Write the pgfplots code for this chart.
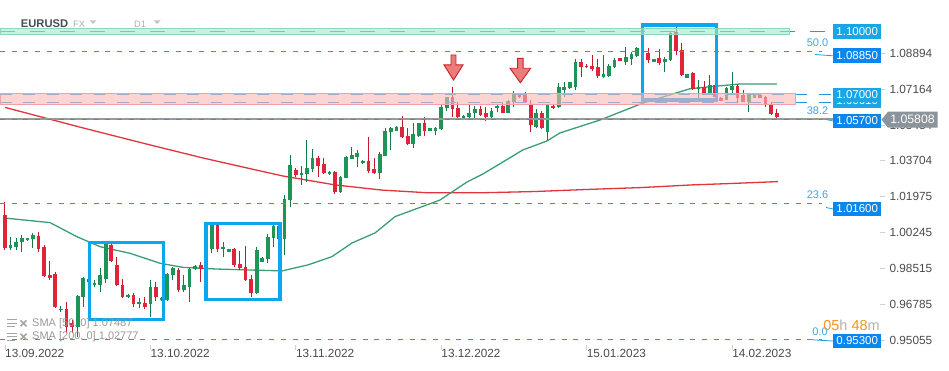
\documentclass[border=0pt]{standalone}
\usepackage{fontspec}
\setmainfont{Liberation Sans}
\usepackage{pgfplots}
\pgfplotsset{compat=1.18}
\usepackage{pgfplotstable}
\newcommand{\fs}[1]{\fontsize{#1}{#1}\selectfont}
\definecolor{gbody}{HTML}{1E9556}
\definecolor{gwick}{HTML}{137A44}
\definecolor{rbody}{HTML}{E0253A}
\definecolor{rwick}{HTML}{C01A2C}
\definecolor{sma50}{HTML}{3A9E74}
\definecolor{sma200}{HTML}{E2343C}
\definecolor{lvl}{HTML}{1E9BE6}
\definecolor{boxblue}{HTML}{0AA6F0}
\definecolor{lblA}{HTML}{1AA5E6}
\definecolor{lblB}{HTML}{0B86EE}
\definecolor{fib}{HTML}{35A9E3}
\definecolor{pband}{HTML}{FBB8B8}
\definecolor{pbandline}{HTML}{F4A0A3}
\definecolor{gband}{HTML}{A3E8CD}
\definecolor{gbandline}{HTML}{8AD9BA}
\definecolor{arrowfill}{HTML}{E86E6E}
\definecolor{arrowdraw}{HTML}{CC1F1F}
\definecolor{pricegray}{HTML}{8B949A}
\definecolor{ticktext}{HTML}{4A4A4A}
\definecolor{cdorange}{HTML}{F7941D}
\definecolor{titlecol}{HTML}{444C55}
\definecolor{hdrgray}{HTML}{A7AEB5}

\pgfplotstableread{
i O H L C
1 0.9948 1.0004 0.9940 0.9964
2 0.9956 0.9999 0.9940 0.9980
3 0.9978 1.0012 0.9929 0.9999
4 0.9990 0.9999 0.9985 0.9996
5 0.9992 1.0020 0.9951 1.0011
10 0.9648 0.9668 0.9640 0.9655
13 0.9570 0.9723 0.9521 0.9718
14 0.9712 0.9811 0.9666 0.9803
16 0.9770 0.9795 0.9763 0.9782
17 0.9771 0.9852 0.9739 0.9819
18 0.9798 0.9983 0.9781 0.9971
22 0.9712 0.9727 0.9708 0.9723
24 0.9679 0.9707 0.9659 0.9689
26 0.9679 0.9795 0.9615 0.9760
28 0.9699 0.9713 0.9694 0.9706
29 0.9699 0.9827 0.9695 0.9823
30 0.9818 0.9859 0.9795 0.9852
32 0.9747 0.9819 0.9739 0.9771
33 0.9763 0.9852 0.9690 0.9847
34 0.9850 0.9868 0.9843 0.9863
36 0.9850 0.9954 0.9843 0.9943
37 0.9943 1.0070 0.9927 1.0061
39 0.9943 0.9980 0.9908 0.9953
40 0.9932 0.9945 0.9930 0.9943
45 0.9731 0.9953 0.9728 0.9940
46 0.9883 0.9906 0.9882 0.9900
47 0.9895 1.0017 0.9879 1.0001
48 0.9996 1.0076 0.9956 1.0056
50 0.9992 1.0205 0.9916 1.0186
51 1.0181 1.0398 1.0149 1.0350
53 1.0300 1.0345 1.0254 1.0313
54 1.0307 1.0471 1.0270 1.0334
55 1.0329 1.0426 1.0318 1.0382
58 1.0305 1.0319 1.0302 1.0315
60 1.0221 1.0297 1.0216 1.0294
61 1.0289 1.0394 1.0286 1.0387
62 1.0379 1.0438 1.0377 1.0398
63 1.0390 1.0422 1.0342 1.0407
64 1.0358 1.0374 1.0355 1.0369
67 1.0310 1.0414 1.0281 1.0403
68 1.0394 1.0527 1.0394 1.0514
69 1.0508 1.0535 1.0422 1.0527
70 1.0516 1.0536 1.0514 1.0532
73 1.0452 1.0551 1.0431 1.0500
74 1.0490 1.0554 1.0487 1.0551
76 1.0516 1.0529 1.0514 1.0527
77 1.0516 1.0535 1.0496 1.0529
78 1.0522 1.0638 1.0519 1.0632
79 1.0624 1.0680 1.0612 1.0677
82 1.0576 1.0589 1.0572 1.0587
83 1.0580 1.0640 1.0576 1.0600
84 1.0600 1.0635 1.0576 1.0622
87 1.0583 1.0624 1.0576 1.0611
88 1.0624 1.0640 1.0606 1.0635
90 1.0603 1.0664 1.0603 1.0659
91 1.0656 1.0709 1.0632 1.0699
95 1.0535 1.0620 1.0530 1.0603
97 1.0511 1.0642 1.0471 1.0640
99 1.0632 1.0744 1.0625 1.0728
100 1.0712 1.0752 1.0680 1.0728
101 1.0723 1.0752 1.0717 1.0749
102 1.0727 1.0864 1.0712 1.0847
107 1.0776 1.0881 1.0769 1.0789
108 1.0780 1.0837 1.0776 1.0828
109 1.0822 1.0867 1.0817 1.0857
111 1.0849 1.0918 1.0833 1.0870
112 1.0862 1.0897 1.0833 1.0886
113 1.0878 1.0921 1.0873 1.0913
116 1.0849 1.0862 1.0847 1.0860
118 1.0846 1.0873 1.0798 1.0862
119 1.0857 1.0997 1.0852 1.0986
122 1.0771 1.0789 1.0770 1.0788
124 1.0715 1.0760 1.0664 1.0728
126 1.0696 1.0784 1.0696 1.0736
129 1.0664 1.0728 1.0664 1.0723
130 1.0712 1.0800 1.0688 1.0733
133 1.0656 1.0696 1.0605 1.0691
134 1.0675 1.0690 1.0674 1.0688
}\greendata

\pgfplotstableread{
i O H L C
0 1.0109 1.0173 0.9940 0.9948
6 1.0009 1.0025 0.9932 0.9945
7 0.9956 0.9964 0.9811 0.9816
8 0.9819 0.9888 0.9795 0.9806
9 0.9823 0.9835 0.9659 0.9666
11 0.9654 0.9690 0.9539 0.9570
12 0.9589 0.9602 0.9541 0.9570
15 0.9802 0.9810 0.9776 0.9785
19 0.9964 0.9976 0.9882 0.9887
20 0.9868 0.9905 0.9766 0.9770
21 0.9770 0.9798 0.9707 0.9714
23 0.9723 0.9734 0.9666 0.9679
25 0.9684 0.9712 0.9654 0.9666
27 0.9763 0.9787 0.9695 0.9712
31 0.9843 0.9852 0.9739 0.9747
35 0.9866 0.9883 0.9787 0.9850
38 1.0061 1.0068 0.9930 0.9943
41 0.9943 0.9951 0.9856 0.9868
42 0.9872 0.9937 0.9843 0.9852
43 0.9856 0.9959 0.9792 0.9795
44 0.9800 0.9819 0.9712 0.9731
49 1.0056 1.0075 0.9983 0.9992
52 1.0326 1.0336 1.0292 1.0302
56 1.0382 1.0394 1.0291 1.0345
57 1.0355 1.0382 1.0307 1.0310
59 1.0318 1.0323 1.0210 1.0221
65 1.0369 1.0487 1.0313 1.0321
66 1.0331 1.0382 1.0308 1.0310
71 1.0535 1.0587 1.0479 1.0484
72 1.0490 1.0527 1.0447 1.0452
75 1.0551 1.0580 1.0490 1.0516
80 1.0677 1.0725 1.0583 1.0619
81 1.0624 1.0656 1.0576 1.0580
85 1.0620 1.0635 1.0587 1.0591
86 1.0600 1.0632 1.0564 1.0580
89 1.0635 1.0648 1.0600 1.0603
92 1.0693 1.0698 1.0674 1.0680
93 1.0686 1.0704 1.0654 1.0656
94 1.0643 1.0664 1.0511 1.0543
96 1.0600 1.0611 1.0524 1.0527
98 1.0636 1.0640 1.0620 1.0624
103 1.0846 1.0862 1.0776 1.0825
104 1.0830 1.0837 1.0816 1.0821
105 1.0828 1.0881 1.0805 1.0813
106 1.0822 1.0860 1.0769 1.0780
110 1.0865 1.0867 1.0852 1.0854
114 1.0913 1.0929 1.0835 1.0888
115 1.0889 1.0913 1.0841 1.0857
117 1.0868 1.0910 1.0833 1.0841
120 1.0991 1.1018 1.0881 1.0900
121 1.0905 1.0937 1.0781 1.0784
123 1.0793 1.0800 1.0712 1.0717
125 1.0728 1.0756 1.0688 1.0696
127 1.0736 1.0746 1.0664 1.0676
128 1.0675 1.0678 1.0657 1.0659
131 1.0733 1.0740 1.0648 1.0675
132 1.0688 1.0712 1.0653 1.0656
135 1.0688 1.0691 1.0672 1.0675
136 1.0680 1.0685 1.0632 1.0640
137 1.0643 1.0653 1.0591 1.0595
138 1.0600 1.0620 1.0572 1.0581
}\reddata

\begin{document}
\begin{tikzpicture}
\begin{axis}[
  at={(0pt,25pt)}, anchor=south west,
  scale only axis, width=880pt, height=345pt,
  xmin=-0.894, xmax=156.46, ymin=0.94814, ymax=1.11464,
  axis line style={draw=none},
  ytick pos=right, xtick pos=left,
  tick align=outside, major tick length=5pt,
  tick style={draw=black!18, line width=0.8pt},
  ytick={0.95055,0.96785,0.98515,1.00245,1.01975,1.03704,1.05434,1.07164,1.08894},
  yticklabels={0.95055,0.96785,0.98515,1.00245,1.01975,1.03704,1.05434,1.07164,1.08894},
  xtick={0,26,52,78,104,130},
  xticklabels={13.09.2022,13.10.2022,13.11.2022,13.12.2022,15.01.2023,14.02.2023},
  yticklabel style={font=\fs{11.8}, text=ticktext, anchor=west, xshift=1pt},
  xticklabel style={font=\fs{11.8}, text=ticktext, anchor=north west, xshift=-3.3pt, yshift=4pt},
  clip=false,
  candle/.style={forget plot, draw=none, mark=none,
    error bars/.cd, y dir=plus, y explicit, error mark=none},
]
% SMA 200
\addplot[sma200, line width=1.3pt, forget plot] coordinates {
(0,1.0628) (13.95,1.0529) (25.93,1.0447) (35.40,1.0384) (44.88,1.0326) (49.71,1.0297)
(59.01,1.0254) (67.41,1.0229) (75.64,1.0216) (85.11,1.0216) (94.59,1.0222) (104.07,1.0232)
(113.54,1.0241) (122.84,1.0254) (130.0,1.0261) (138.2,1.0270)};
% SMA 50
\addplot[sma50, line width=1.3pt, forget plot] coordinates {
(0,1.0094) (8.05,1.0072) (12.87,1.0004) (16.99,0.9956) (22.35,0.9924) (27.72,0.9876)
(31.83,0.9856) (37.91,0.9848) (44.35,0.9843) (49.53,0.9839) (54.18,0.9868) (58.47,0.9908)
(62.05,0.9974) (66.16,1.0022) (69.74,1.0101) (77.78,1.0181) (82.61,1.0268) (85.47,1.0307)
(92.62,1.0423) (96.91,1.0466) (99.24,1.0505) (106.39,1.0567) (114.08,1.0649) (122.48,1.0718)
(127.31,1.0731) (131.42,1.0741) (138.04,1.0741)};
% wicks
\addplot[candle, error bar style={draw=gwick, line width=1pt}]
  table[x=i, y=L, y error expr=\thisrow{H}-\thisrow{L}] {\greendata};
\addplot[candle, error bar style={draw=rwick, line width=1pt}]
  table[x=i, y=L, y error expr=\thisrow{H}-\thisrow{L}] {\reddata};
% bodies
\addplot[candle, error bar style={draw=gbody, line width=3.7pt}]
  table[x=i, y=O, y error expr=\thisrow{C}-\thisrow{O}] {\greendata};
\addplot[candle, error bar style={draw=rbody, line width=3.7pt}]
  table[x=i, y=C, y error expr=\thisrow{O}-\thisrow{C}] {\reddata};
% level lines
\addplot[forget plot, lvl, line width=1.1pt, dash pattern=on 15pt off 15pt] coordinates {(-0.894,1.0994) (148.05,1.0994)};
\addplot[forget plot, lvl, line width=1.1pt, dash pattern=on 5pt off 6.7pt] coordinates {(-0.894,1.0897) (146.1,1.0897)};
\addplot[forget plot, lvl, line width=1.1pt, dash pattern=on 11.7pt off 11.7pt] coordinates {(-0.894,1.0689) (148.05,1.0689)};
\addplot[forget plot, lvl, line width=1.1pt, dash pattern=on 11.7pt off 11.7pt] coordinates {(-0.894,1.0653) (148.05,1.0653)};
\addplot[forget plot, black!40, line width=1.1pt] coordinates {(-0.894,1.0572) (148.05,1.0572)};
\addplot[forget plot, lvl, line width=1.1pt, dash pattern=on 5pt off 6.7pt] coordinates {(-0.894,1.0571) (146.1,1.0571)};
\addplot[forget plot, lvl, line width=1.1pt, dash pattern=on 5pt off 6.7pt] coordinates {(-0.894,1.0164) (146.1,1.0164)};
\addplot[forget plot, lvl, line width=1.1pt, dash pattern=on 5pt off 6.7pt] coordinates {(-0.894,0.9509) (146.1,0.9509)};
% highlight boxes
\draw[boxblue, line width=3.3pt] (axis cs:15.07,0.96054) rectangle (axis cs:28.31,0.99751);
\draw[boxblue, line width=3.3pt] (axis cs:35.94,0.97019) rectangle (axis cs:49.17,1.00687);
\draw[boxblue, line width=3.3pt] (axis cs:114.03,1.06638) rectangle (axis cs:127.26,1.10258);
% bands
\fill[gband, opacity=0.6] (axis cs:-0.894,1.0978) rectangle (axis cs:140.19,1.1010);
\draw[gbandline, line width=0.8pt] (axis cs:-0.894,1.0978) rectangle (axis cs:140.19,1.1010);
\fill[pband, opacity=0.6] (axis cs:-0.894,1.0641) rectangle (axis cs:141.26,1.0696);
\draw[pbandline, line width=0.8pt] (axis cs:-0.894,1.0641) rectangle (axis cs:141.26,1.0696);
% arrows
\filldraw[fill=arrowfill, draw=arrowdraw, line width=0.9pt, fill opacity=0.9]
  (axis cs:79.75,1.0881) -- (axis cs:80.64,1.0881) -- (axis cs:80.64,1.0833) -- (axis cs:81.89,1.0833)
  -- (axis cs:80.20,1.0760) -- (axis cs:78.50,1.0833) -- (axis cs:79.75,1.0833) -- cycle;
\filldraw[fill=arrowfill, draw=arrowdraw, line width=0.9pt, fill opacity=0.9]
  (axis cs:91.65,1.0865) -- (axis cs:92.65,1.0865) -- (axis cs:92.65,1.0817) -- (axis cs:94.00,1.0817)
  -- (axis cs:92.15,1.0747) -- (axis cs:90.30,1.0817) -- (axis cs:91.65,1.0817) -- cycle;
\end{axis}

\begin{scope}[shift={(0pt,370pt)}, x=1pt, y=-1pt]
% header
\node[anchor=base west, inner sep=0, font=\bfseries\fs{11.2}, text=titlecol] at (20.7,27.3) {EURUSD};
\node[anchor=base west, inner sep=0, font=\fs{9.3}, text=hdrgray] at (73,27.5) {FX};
\fill[hdrgray!70] (89.5,20.5) -- (96.5,20.5) -- (93,24) -- cycle;
\node[anchor=base west, inner sep=0, font=\fs{9.3}, text=hdrgray] at (134,27.5) {D1};
\fill[hdrgray!70] (153.5,20.5) -- (160.5,20.5) -- (157,24) -- cycle;
% legend
\foreach \yy in {323.3,336.7}{
  \draw[black!35, line width=1.2pt] (7,\yy-3.5) -- (17,\yy-3.5) (7,\yy) -- (17,\yy) (7,\yy+3.5) -- (15,\yy+3.5);
  \draw[black!35, line width=1.6pt] (20.5,\yy-3) -- (26.5,\yy+3) (20.5,\yy+3) -- (26.5,\yy-3);
}
\node[anchor=west, inner sep=0, font=\fs{11}, text=black!40] at (32,323.3) {SMA [50, 0] 1.07487};
\node[anchor=west, inner sep=0, font=\fs{11}, text=black!40] at (32,336.7) {SMA [200, 0] 1.02777};
% connectors
\draw[lvl, line width=0.8pt] (815,54.5) -- (833,55.8);
\draw[lvl, line width=0.8pt] (826,119.5) -- (833,121);
\draw[lvl, line width=0.8pt] (826,207.5) -- (833,209);
\draw[lvl, line width=0.8pt] (812,339.8) -- (833,341);
% fib labels
\node[font=\fs{11}, text=fib, inner sep=0] at (817.5,42.7) {50.0};
\node[font=\fs{11}, text=fib, inner sep=0] at (817.5,110.3) {38.2};
\node[font=\fs{11}, text=fib, inner sep=0] at (817.5,194.3) {23.6};
\node[font=\fs{11}, text=fib, inner sep=0] at (820,331.7) {0.0};
% level labels
\tikzset{lbl/.style={text=white, minimum width=47.7pt, minimum height=14.3pt, inner sep=0, font=\fs{11.5}}}
\node[lbl, fill=lblA] at (857.2,100.5) {1.06610};
\node[lbl, fill=lblA] at (857.2,95) {1.07000};
\node[lbl, fill=lblA] at (857.2,31.5) {1.10000};
\node[lbl, fill=lblB] at (857.2,55.5) {1.08850};
\node[lbl, fill=lblB] at (857.2,120.7) {1.05700};
\node[lbl, fill=lblB] at (857.2,208.7) {1.01600};
\node[lbl, fill=lblB] at (857.2,340.7) {0.95300};
% current price
\fill[pricegray] (881.5,119.7) -- (888,111.7) -- (937.5,111.7) -- (937.5,127.7) -- (888,127.7) -- cycle;
\node[text=white, font=\fs{12.3}, inner sep=0] at (912.5,119.7) {1.05808};
% countdown
\node[font=\fs{14.5}, inner sep=0] at (851.5,325.3) {\textcolor{cdorange}{05}\textcolor{black!30}{h} \textcolor{cdorange}{48}\textcolor{black!30}{m}};
\end{scope}
\pgfresetboundingbox
\path (0pt,0pt) rectangle (949pt,370pt);
\end{tikzpicture}
\end{document}
